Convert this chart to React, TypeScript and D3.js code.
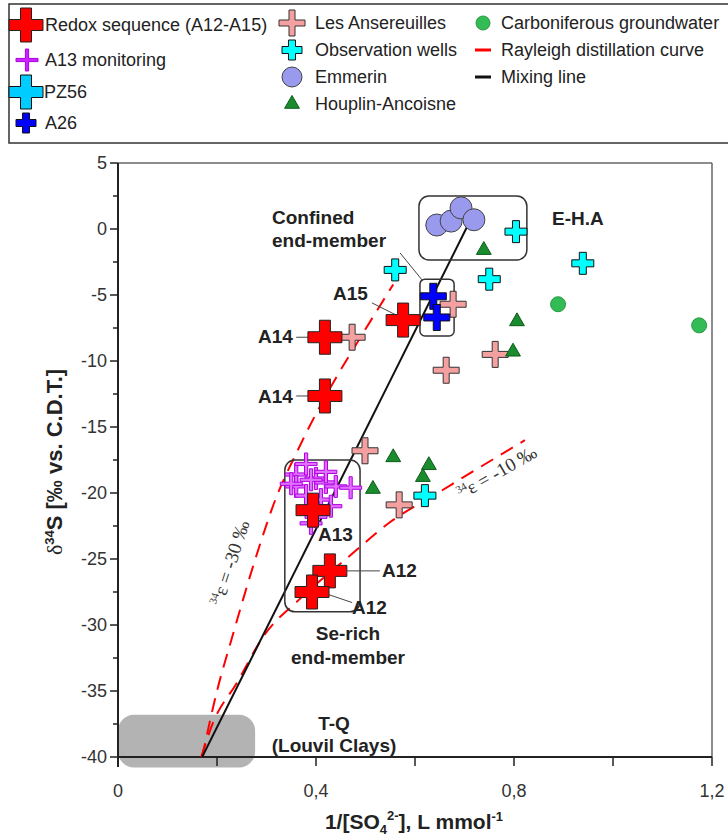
import React from 'react';
import * as d3 from 'd3';

const svgWidth = 728;
const svgHeight = 839;

// data (x = 1/[SO4], y = d34S)
const redox = [
  { x: 0.576, y: -6.9 }, { x: 0.418, y: -8.2 }, { x: 0.418, y: -12.65 },
  { x: 0.394, y: -21.3 }, { x: 0.428, y: -25.9 }, { x: 0.392, y: -27.5 },
];
const a13 = [
  { x: 0.36, y: -18.6 }, { x: 0.38, y: -17.8 }, { x: 0.40, y: -18.9 }, { x: 0.42, y: -19.2 },
  { x: 0.44, y: -19.5 }, { x: 0.47, y: -19.6 }, { x: 0.36, y: -19.5 }, { x: 0.38, y: -20.2 },
  { x: 0.41, y: -20.5 }, { x: 0.39, y: -19.0 }, { x: 0.35, y: -19.3 }, { x: 0.43, y: -21.0 },
  { x: 0.39, y: -22.3 }, { x: 0.40, y: -21.8 }, { x: 0.42, y: -18.4 },
];
const a26 = [{ x: 0.637, y: -5.1 }, { x: 0.644, y: -6.7 }];
const ansereuilles = [
  { x: 0.473, y: -8.2 }, { x: 0.677, y: -5.7 }, { x: 0.762, y: -9.5 },
  { x: 0.663, y: -10.7 }, { x: 0.499, y: -16.8 }, { x: 0.568, y: -20.9 },
];
const obsWells = [
  { x: 0.804, y: -0.2 }, { x: 0.939, y: -2.6 }, { x: 0.75, y: -3.8 },
  { x: 0.56, y: -3.1 }, { x: 0.62, y: -20.2 },
];
const emmerin = [
  { x: 0.644, y: 0.3 }, { x: 0.673, y: 0.6 }, { x: 0.693, y: 1.6 }, { x: 0.719, y: 0.7 },
];
const houplin = [
  { x: 0.739, y: -1.6 }, { x: 0.806, y: -7.0 }, { x: 0.798, y: -9.3 }, { x: 0.556, y: -17.3 },
  { x: 0.628, y: -17.9 }, { x: 0.616, y: -18.8 }, { x: 0.515, y: -19.7 },
];
const carboniferous = [{ x: 0.889, y: -5.7 }, { x: 1.174, y: -7.3 }];

const rayleigh30 = [
  { x: 0.17, y: -40 }, { x: 0.2, y: -35 }, { x: 0.23, y: -31 }, { x: 0.28, y: -24.7 },
  { x: 0.32, y: -20.3 }, { x: 0.36, y: -17 }, { x: 0.4, y: -14 }, { x: 0.44, y: -11.3 },
  { x: 0.49, y: -8.2 }, { x: 0.556, y: -4.2 },
];
const rayleigh10 = [
  { x: 0.168, y: -40 }, { x: 0.192, y: -37.4 }, { x: 0.24, y: -34.4 }, { x: 0.293, y: -30.9 },
  { x: 0.368, y: -28.0 }, { x: 0.47, y: -24.7 }, { x: 0.55, y: -22.2 }, { x: 0.646, y: -20.0 },
  { x: 0.72, y: -18.3 }, { x: 0.822, y: -16.0 },
];
const mixingLine = [{ x: 0.17, y: -40 }, { x: 0.707, y: 0.3 }];

const yTicks = [-40, -35, -30, -25, -20, -15, -10, -5, 0, 5];
const xTicks = [0, 0.2, 0.4, 0.6, 0.8, 1.0, 1.2];
const xTickLabels = ['0', '0,4', '0,8', '1,2'];

// plot area
const x = d3.scaleLinear().domain([0, 1.2]).range([118, 712]);
const y = d3.scaleLinear().domain([-40, 5]).range([757, 163]);

const cross = (L: number, w: number) =>
  `M${-w},${-L}H${w}V${-w}H${L}V${w}H${w}V${L}H${-w}V${w}H${-L}V${-w}H${-w}Z`;
const tri = d3.symbol().type(d3.symbolTriangle).size(95)() as string;

const sans = 'Liberation Sans, Arial, sans-serif';
const serif = 'Liberation Serif, Times New Roman, serif';

const styles = {
  red: { d: cross(17, 5.5), fill: '#ff0000', stroke: '#222', sw: 1 },
  pink: { d: cross(13, 3), fill: '#f5a0a0', stroke: '#333', sw: 1 },
  cyan: { d: cross(11, 3.5), fill: '#00ffff', stroke: '#111', sw: 1 },
  blue: { d: cross(13, 3.5), fill: '#0000ff', stroke: '#111', sw: 1 },
  purple: { d: cross(11, 1.6), fill: '#e070ff', stroke: '#b000e0', sw: 1 },
};

const Crosses = ({ data, s }: { data: { x: number; y: number }[]; s: any }) => (
  <g>
    {data.map((d, i) => (
      <path key={i} d={s.d} transform={`translate(${x(d.x)},${y(d.y)})`}
        fill={s.fill} stroke={s.stroke} strokeWidth={s.sw} />
    ))}
  </g>
);

const App: React.FC = () => {
  const line = d3.line<{ x: number; y: number }>().x(d => x(d.x)).y(d => y(d.y));
  const curve = d3.line<{ x: number; y: number }>().x(d => x(d.x)).y(d => y(d.y)).curve(d3.curveMonotoneX);

  const box = (x0: number, x1: number, y0: number, y1: number, r: number, key: string) => (
    <rect key={key} x={x(x0)} y={y(y0)} width={x(x1) - x(x0)} height={y(y1) - y(y0)} rx={r}
      fill="none" stroke="#333" strokeWidth={1.5} />
  );
  const leader = (x0: number, y0: number, x1: number, y1: number, key: string) => (
    <line key={key} x1={x(x0)} y1={y(y0)} x2={x(x1)} y2={y(y1)} stroke="#444" strokeWidth={1} />
  );
  const boldTxt = { fontFamily: sans, fontWeight: 700, fontSize: 19, fill: '#222' } as const;

  return (
    <svg width={svgWidth} height={svgHeight} style={{ position: 'absolute', left: 0, top: 0, background: '#fff' }}>
      {/* legend */}
      <rect x={9} y={4} width={740} height={139} fill="#fff" stroke="#333" strokeWidth={1.5} />
      <g fontFamily={sans} fontSize={18} fill="#222">
        <path d={styles.red.d} transform="translate(26,25)" fill="#ff0000" stroke="#222" />
        <text x={45} y={31}>Redox sequence (A12-A15)</text>
        <path d={cross(11, 1.6)} transform="translate(27,60)" fill="#cc22ff" stroke="#aa00dd" />
        <text x={45} y={66}>A13 monitoring</text>
        <path d={cross(17, 5.5)} transform="translate(26,92)" fill="#00ccff" stroke="#111" />
        <text x={44} y={98}>PZ56</text>
        <path d={cross(10, 3.5)} transform="translate(26,123)" fill="#0000ff" stroke="#111" />
        <text x={45} y={129}>A26</text>

        <path d={styles.pink.d} transform="translate(292,23)" fill={styles.pink.fill} stroke="#333" />
        <text x={315} y={29}>Les Ansereuilles</text>
        <path d={cross(10, 3.5)} transform="translate(292,50)" fill="#00ffff" stroke="#111" />
        <text x={315} y={56}>Observation wells</text>
        <circle cx={292} cy={77} r={10} fill="#9999ee" stroke="#444" />
        <text x={315} y={83}>Emmerin</text>
        <path d={tri} transform="translate(292,104)" fill="#1a8c2e" stroke="#0d5c1a" />
        <text x={315} y={110}>Houplin-Ancoisne</text>

        <circle cx={483} cy={23} r={7} fill="#33bb55" stroke="#2a9944" />
        <text x={501} y={29}>Carboniferous groundwater</text>
        <line x1={475} x2={491} y1={50} y2={50} stroke="#ff0000" strokeWidth={3} />
        <text x={501} y={56}>Rayleigh distillation curve</text>
        <line x1={475} x2={491} y1={77} y2={77} stroke="#111" strokeWidth={3} />
        <text x={501} y={83}>Mixing line</text>
      </g>

      {/* T-Q clay box */}
      <rect x={x(0)} y={y(-36.8)} width={x(0.277) - x(0)} height={y(-40.8) - y(-36.8)} rx={16} fill="#b3b3b3" />

      {/* frame */}
      <line x1={x(0)} x2={x(1.2)} y1={y(5)} y2={y(5)} stroke="#666" strokeWidth={1.5} />
      <line x1={x(1.2)} x2={x(1.2)} y1={y(5)} y2={y(-40)} stroke="#666" strokeWidth={1.5} />

      {/* axes */}
      <g fontFamily={sans} fontSize={18} fill="#333">
        <line x1={x(0)} x2={x(0)} y1={y(5)} y2={y(-40) + 10} stroke="#222" strokeWidth={2} />
        <line x1={x(0)} x2={x(1.2)} y1={y(-40)} y2={y(-40)} stroke="#222" strokeWidth={2} />
        {yTicks.map(t => (
          <g key={t}>
            <line x1={x(0) - 8} x2={x(0)} y1={y(t)} y2={y(t)} stroke="#222" strokeWidth={1.5} />
            <text x={x(0) - 11} y={y(t) + 6} textAnchor="end">{t}</text>
          </g>
        ))}
        {yTicks.slice(1).map(t => (
          <line key={t} x1={x(0) - 5} x2={x(0)} y1={y(t - 2.5)} y2={y(t - 2.5)} stroke="#222" strokeWidth={1.5} />
        ))}
        {xTicks.map(t => (
          <line key={t} x1={x(t)} x2={x(t)} y1={y(-40)} y2={y(-40) + 9} stroke="#222" strokeWidth={1.5} />
        ))}
        {xTickLabels.map((l, i) => (
          <text key={l} x={x(i * 0.4)} y={797} textAnchor="middle">{l}</text>
        ))}
      </g>

      {/* axis titles */}
      <text x={414} y={829} textAnchor="middle" fontFamily={sans} fontWeight={700} fontSize={21} fill="#222">
        1/[SO<tspan fontSize={13} dy={5}>4</tspan><tspan fontSize={13} dy={-14}>2-</tspan>
        <tspan dy={9}>], L mmol</tspan><tspan fontSize={13} dy={-8}>-1</tspan>
      </text>
      <text transform="translate(62,462) rotate(-90)" textAnchor="middle" fontFamily={sans} fontWeight={700} fontSize={22} fill="#222">
        <tspan fontFamily={serif} fontWeight={400}>δ</tspan>
        <tspan fontSize={13} dy={-8}>34</tspan>
        <tspan dy={8}>S [‰ vs. C.D.T.]</tspan>
      </text>

      {/* Rayleigh curves and mixing line */}
      <path d={curve(rayleigh30) as string} fill="none" stroke="#ff0000" strokeWidth={2} strokeDasharray="14,9" />
      <path d={curve(rayleigh10) as string} fill="none" stroke="#ff0000" strokeWidth={2} strokeDasharray="14,9" />
      <path d={line(mixingLine) as string} fill="none" stroke="#111" strokeWidth={2} />

      <text transform="translate(236,565) rotate(-72)" textAnchor="middle" fontFamily={serif} fontSize={19} fill="#333">
        <tspan fontSize={11} dy={-7}>34</tspan><tspan dy={7}>ε = -30 ‰</tspan>
      </text>
      <text transform="translate(500,478) rotate(-30)" textAnchor="middle" fontFamily={serif} fontSize={19} fill="#333">
        <tspan fontSize={11} dy={-7}>34</tspan><tspan dy={7}>ε = -10 ‰</tspan>
      </text>

      {/* annotation boxes */}
      {box(0.608, 0.826, 2.5, -2.35, 10, 'eha')}
      {box(0.61, 0.679, -3.8, -8.1, 5, 'conf')}
      {box(0.337, 0.489, -17.5, -29.0, 10, 'se')}

      {/* leader lines */}
      {leader(0.57, -1.82, 0.616, -3.94, 'l1')}
      {leader(0.513, -5.6, 0.57, -6.67, 'l2')}
      {leader(0.36, -8.2, 0.39, -8.2, 'l3')}
      {leader(0.36, -12.65, 0.39, -12.65, 'l4')}
      {leader(0.463, -25.9, 0.529, -25.9, 'l5')}
      {leader(0.398, -27.35, 0.473, -28.3, 'l6')}

      {/* points */}
      <Crosses data={a13} s={styles.purple} />
      <Crosses data={ansereuilles} s={styles.pink} />
      <Crosses data={obsWells} s={styles.cyan} />
      {houplin.map((d, i) => (
        <path key={i} d={tri} transform={`translate(${x(d.x)},${y(d.y)})`} fill="#1a8c2e" stroke="#0d5c1a" />
      ))}
      {carboniferous.map((d, i) => (
        <circle key={i} cx={x(d.x)} cy={y(d.y)} r={7.5} fill="#33bb55" stroke="#2a9944" />
      ))}
      {emmerin.map((d, i) => (
        <circle key={i} cx={x(d.x)} cy={y(d.y)} r={11} fill="#9999ee" stroke="#444" />
      ))}
      <Crosses data={a26} s={styles.blue} />
      <Crosses data={redox} s={styles.red} />

      {/* labels */}
      <g {...boldTxt}>
        <text x={272} y={224}>Confined</text>
        <text x={272} y={247}>end-member</text>
        <text x={333} y={300}>A15</text>
        <text x={258} y={343}>A14</text>
        <text x={258} y={403}>A14</text>
        <text x={318} y={541}>A13</text>
        <text x={382} y={577}>A12</text>
        <text x={352} y={614}>A12</text>
        <text x={348} y={640} textAnchor="middle">Se-rich</text>
        <text x={348} y={664} textAnchor="middle">end-member</text>
        <text x={552} y={225}>E-H.A</text>
        <text x={334} y={730} textAnchor="middle">T-Q</text>
        <text x={334} y={752} textAnchor="middle">(Louvil Clays)</text>
      </g>
    </svg>
  );
};

export default App;
